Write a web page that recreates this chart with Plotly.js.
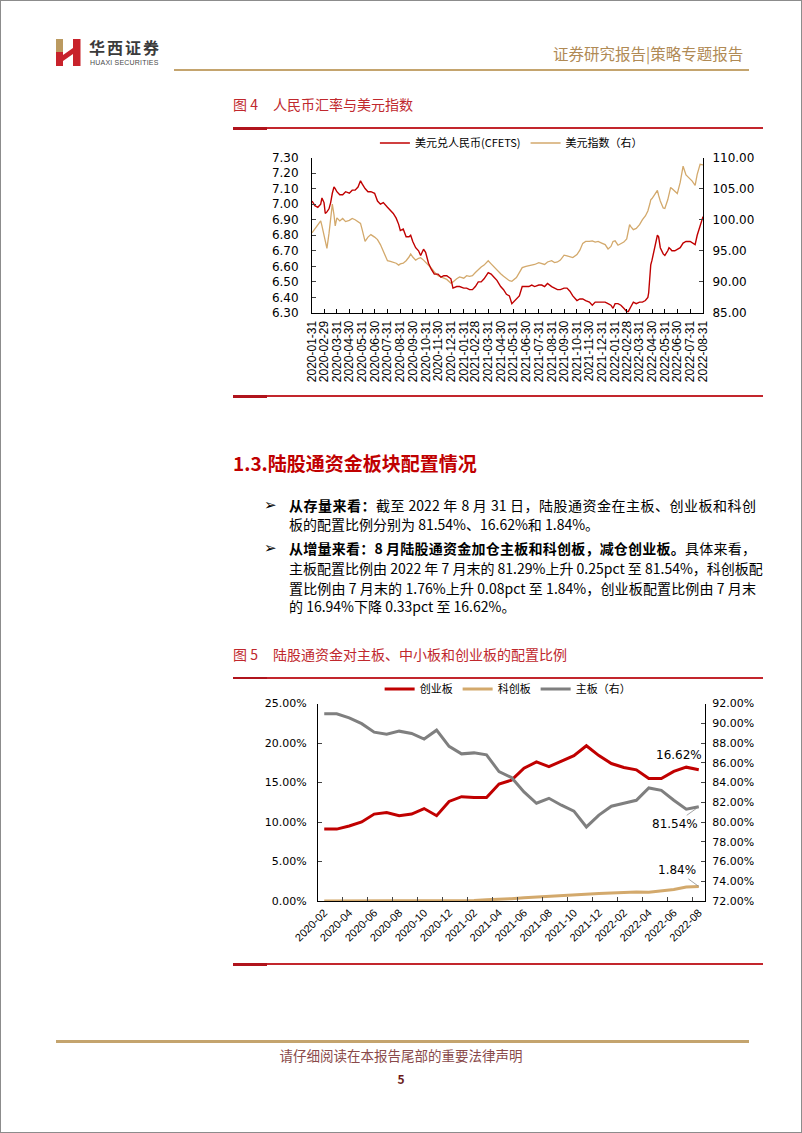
<!DOCTYPE html>
<html><head><meta charset="utf-8">
<script src="https://cdn.plot.ly/plotly-3.0.1.min.js"></script>
<style>
html,body{margin:0;padding:0;background:#fff;}
#page{position:relative;width:802px;height:1133px;box-sizing:border-box;border:1px solid #8c8c8c;overflow:hidden;font-family:"Noto Sans CJK SC","Noto Sans",sans-serif;color:#000;}
.abs{position:absolute;white-space:pre;}
.rule{position:absolute;left:232px;width:530px;height:2px;background:#c3262d;}
.rule:before{content:"";position:absolute;left:0;top:-0.5px;width:34px;height:3px;background:#b0141c;}
.ttl{position:absolute;left:232px;font-size:14px;line-height:20px;color:#c0282d;white-space:nowrap;}
.ttl span{margin-left:15px;}
.ln{position:absolute;left:288px;width:467px;font-size:14px;line-height:19px;white-space:nowrap;}
.j{text-align:justify;text-align-last:justify;}
.bul{position:absolute;left:263px;font-size:15px;line-height:19px;font-family:"DejaVu Sans",sans-serif;}
</style></head>
<body>
<div id="page">
  <svg class="abs" style="left:55px;top:38px" width="25" height="27" viewBox="0 0 25 27">
    <rect x="0" y="0" width="7" height="13" fill="#bb9a60"/>
    <rect x="0" y="13" width="7" height="14" fill="#c8222b"/>
    <rect x="17" y="0" width="7.5" height="27" fill="#c8222b"/>
    <polygon points="7,16 17,9 17,15 7,22" fill="#c8222b"/>
  </svg>
  <div class="abs" style="left:88px;top:37px;font-size:16px;line-height:19px;font-weight:700;color:#3b3b3b;letter-spacing:2px;">华西证券</div>
  <div class="abs" style="left:89px;top:58px;font-size:7px;line-height:7px;color:#4a4a4a;font-family:'Liberation Sans',sans-serif;letter-spacing:0.2px;">HUAXI SECURITIES</div>
  <div class="abs" style="left:173px;top:68px;width:575px;height:2px;background:#c4a46e;"></div>
  <div class="abs" style="left:552px;top:43px;font-size:15.5px;line-height:18px;color:#b08a55;">证券研究报告|策略专题报告</div>

  <div class="ttl" style="top:93px;">图 4<span>人民币汇率与美元指数</span></div>
  <div class="rule" style="top:126px;"></div>
  <div id="c1" class="abs" style="left:232px;top:130px;width:538px;height:262px;"></div>
  <div class="rule" style="top:394px;"></div>

  <div class="abs" style="left:232px;top:449px;font-size:19px;line-height:26px;font-weight:700;color:#c00000;">1.3.陆股通资金板块配置情况</div>

  <div class="bul" style="top:495px;">➢</div>
  <div class="ln j" style="top:495px;"><b>从存量来看：</b>截至 2022 年 8 月 31 日，陆股通资金在主板、创业板和科创</div>
  <div class="ln" style="top:514px;">板的配置比例分别为 81.54%、16.62%和 1.84%。</div>
  <div class="bul" style="top:538px;">➢</div>
  <div class="ln j" style="top:538px;"><b>从增量来看：8 月陆股通资金加仓主板和科创板，减仓创业板。</b>具体来看，</div>
  <div class="ln j" style="top:558px;">主板配置比例由 2022 年 7 月末的 81.29%上升 0.25pct 至 81.54%，科创板配</div>
  <div class="ln j" style="top:578px;">置比例由 7 月末的 1.76%上升 0.08pct 至 1.84%，创业板配置比例由 7 月末</div>
  <div class="ln" style="top:596px;">的 16.94%下降 0.33pct 至 16.62%。</div>

  <div class="ttl" style="top:643px;">图 5<span>陆股通资金对主板、中小板和创业板的配置比例</span></div>
  <div class="rule" style="top:676px;"></div>
  <div id="c2" class="abs" style="left:232px;top:678px;width:538px;height:282px;"></div>
  <div class="rule" style="top:962px;"></div>

  <div class="abs" style="left:55px;top:1039px;width:693px;height:3px;background:#c4a46e;"></div>
  <div class="abs" style="left:0;width:800px;text-align:center;top:1045px;font-size:13.5px;line-height:18px;color:#8a4a4a;">请仔细阅读在本报告尾部的重要法律声明</div>
  <div class="abs" style="left:0;width:800px;text-align:center;top:1070px;font-size:12px;line-height:16px;font-weight:700;color:#6b1a1a;">5</div>
</div>
<script>
// ---------- Figure 4 data ----------
const fxTickLabels = ['2020-01-31','2020-02-29','2020-03-31','2020-04-30','2020-05-31','2020-06-30','2020-07-31','2020-08-31','2020-09-30','2020-10-31','2020-11-30','2020-12-31','2021-01-31','2021-02-28','2021-03-31','2021-04-30','2021-05-31','2021-06-30','2021-07-31','2021-08-31','2021-09-30','2021-10-31','2021-11-30','2021-12-31','2022-01-31','2022-02-28','2022-03-31','2022-04-30','2022-05-31','2022-06-30','2022-07-31','2022-08-31'];
const fxDates = ['2020-01-31','2020-02-07','2020-02-14','2020-02-21','2020-02-24','2020-02-29','2020-03-03','2020-03-07','2020-03-12','2020-03-16','2020-03-20','2020-03-24','2020-03-27','2020-03-31','2020-04-07','2020-04-14','2020-04-21','2020-04-30','2020-05-07','2020-05-14','2020-05-21','2020-05-27','2020-05-31','2020-06-07','2020-06-14','2020-06-21','2020-06-30','2020-07-07','2020-07-14','2020-07-21','2020-07-31','2020-08-07','2020-08-14','2020-08-21','2020-08-27','2020-08-31','2020-09-07','2020-09-14','2020-09-21','2020-09-25','2020-09-30','2020-10-07','2020-10-14','2020-10-19','2020-10-26','2020-10-31','2020-11-07','2020-11-14','2020-11-21','2020-11-30','2020-12-07','2020-12-14','2020-12-21','2020-12-31','2021-01-05','2021-01-14','2021-01-21','2021-01-31','2021-02-07','2021-02-14','2021-02-21','2021-02-28','2021-03-07','2021-03-14','2021-03-21','2021-03-31','2021-04-07','2021-04-14','2021-04-21','2021-04-30','2021-05-07','2021-05-14','2021-05-21','2021-05-27','2021-05-31','2021-06-07','2021-06-14','2021-06-21','2021-06-30','2021-07-07','2021-07-14','2021-07-21','2021-07-31','2021-08-07','2021-08-14','2021-08-21','2021-08-31','2021-09-07','2021-09-14','2021-09-21','2021-09-30','2021-10-07','2021-10-14','2021-10-21','2021-10-31','2021-11-07','2021-11-14','2021-11-21','2021-11-30','2021-12-07','2021-12-14','2021-12-21','2021-12-31','2022-01-07','2022-01-14','2022-01-21','2022-01-26','2022-01-31','2022-02-07','2022-02-14','2022-02-21','2022-02-28','2022-03-04','2022-03-07','2022-03-10','2022-03-16','2022-03-23','2022-03-31','2022-04-07','2022-04-14','2022-04-20','2022-04-22','2022-04-25','2022-04-27','2022-04-30','2022-05-06','2022-05-10','2022-05-13','2022-05-16','2022-05-20','2022-05-27','2022-05-31','2022-06-07','2022-06-10','2022-06-14','2022-06-17','2022-06-24','2022-06-30','2022-07-07','2022-07-14','2022-07-21','2022-07-31','2022-08-05','2022-08-12','2022-08-17','2022-08-24','2022-08-31'];
const usdCny = [7.02,6.99,6.98,7.00,7.04,7.01,6.94,6.95,6.97,7.01,7.07,7.11,7.10,7.08,7.06,7.06,7.08,7.07,7.09,7.09,7.11,7.15,7.13,7.10,7.08,7.08,7.07,7.02,7.00,7.01,6.98,6.96,6.94,6.91,6.87,6.83,6.84,6.79,6.79,6.80,6.76,6.72,6.70,6.67,6.71,6.69,6.62,6.58,6.55,6.55,6.53,6.54,6.54,6.52,6.46,6.47,6.47,6.46,6.46,6.45,6.45,6.47,6.50,6.50,6.52,6.56,6.55,6.53,6.51,6.47,6.45,6.42,6.41,6.36,6.37,6.39,6.41,6.47,6.47,6.47,6.48,6.47,6.48,6.48,6.47,6.49,6.47,6.46,6.45,6.45,6.46,6.46,6.44,6.41,6.38,6.39,6.39,6.38,6.37,6.35,6.37,6.37,6.37,6.37,6.36,6.35,6.33,6.36,6.36,6.35,6.33,6.31,6.31,6.33,6.34,6.37,6.36,6.37,6.37,6.38,6.40,6.43,6.55,6.61,6.64,6.71,6.77,6.80,6.79,6.72,6.68,6.67,6.70,6.72,6.71,6.70,6.70,6.71,6.72,6.75,6.76,6.76,6.75,6.74,6.80,6.86,6.92];
const dollarIndex = [97.9,98.6,99.3,99.8,99.0,97.6,96.5,95.4,97.8,100.5,102.5,100.8,99.0,100.3,99.8,100.2,99.7,99.9,100.2,100.0,99.6,99.4,98.4,96.5,97.2,97.6,97.2,96.8,96.0,94.8,93.4,93.3,93.2,93.0,92.7,92.9,93.0,93.4,94.0,94.5,94.0,93.5,93.8,93.9,93.5,93.2,92.7,92.2,91.6,91.0,90.8,90.6,90.4,89.8,90.0,90.5,90.8,90.6,91.0,90.9,91.0,91.5,92.0,92.4,92.7,93.4,92.9,92.4,91.8,91.3,90.9,90.5,90.2,90.1,90.3,90.7,91.5,92.3,92.5,92.6,92.8,92.8,93.1,93.0,92.8,93.2,93.4,93.1,93.2,93.5,94.3,94.2,94.0,93.9,94.4,95.1,96.2,96.5,96.5,96.6,96.4,96.5,96.2,96.0,95.3,95.7,96.5,96.6,95.9,96.1,96.4,96.9,98.0,99.2,98.9,98.4,98.6,99.2,100.0,100.6,101.4,101.8,102.6,103.2,103.4,104.0,104.3,104.7,103.9,103.0,101.9,101.8,103.2,104.2,105.2,105.0,104.6,104.2,106.0,108.6,107.2,106.6,106.2,105.5,107.3,108.9,108.8];
const fxNames = ['美元兑人民币(CFETS)','美元指数（右）'];

// ---------- Figure 5 data ----------
const months = ['2020-02','2020-03','2020-04','2020-05','2020-06','2020-07','2020-08','2020-09','2020-10','2020-11','2020-12','2021-01','2021-02','2021-03','2021-04','2021-05','2021-06','2021-07','2021-08','2021-09','2021-10','2021-11','2021-12','2022-01','2022-02','2022-03','2022-04','2022-05','2022-06','2022-07','2022-08'];
const chinext = [9.1,9.1,9.5,10.0,11.0,11.2,10.8,11.0,11.7,10.8,12.6,13.2,13.1,13.1,14.8,15.3,16.8,17.6,17.0,17.7,18.4,19.65,18.4,17.4,16.9,16.6,15.5,15.5,16.4,16.94,16.62];
const star = [0,0,0,0,0,0,0,0,0,0,0,0,0.05,0.15,0.2,0.3,0.4,0.5,0.6,0.7,0.75,0.85,0.95,1.0,1.05,1.15,1.1,1.3,1.45,1.76,1.84];
const mainBoard = [90.95,90.95,90.55,89.96,89.1,88.9,89.2,88.97,88.4,89.3,87.66,86.9,87.0,86.8,85.1,84.5,83.05,81.9,82.4,81.7,81.1,79.5,80.7,81.6,81.9,82.2,83.45,83.2,82.2,81.29,81.54];
const boardNames = ['创业板','科创板','主板（右）'];

const FONT = '"Noto Sans CJK SC","Noto Sans",sans-serif';
const RED = '#c00000', TAN = '#d3a96c', GREY = '#7f7f7f';

// ---------- Chart 1 ----------
Plotly.newPlot('c1', [
  {x: fxDates, y: dollarIndex, name: fxNames[1], type: 'scatter', mode: 'lines', yaxis: 'y', line: {color: TAN, width: 1.3}, legendrank: 2},
  {x: fxDates, y: usdCny, name: fxNames[0], type: 'scatter', mode: 'lines', yaxis: 'y2', line: {color: RED, width: 1.4}, legendrank: 1}
], {
  width: 538, height: 262,
  margin: {l: 79, r: 68, t: 22, b: 80},
  paper_bgcolor: '#fff', plot_bgcolor: '#fff',
  font: {family: FONT, size: 11, color: '#000'},
  showlegend: true,
  legend: {orientation: 'h', x: 0.51, xanchor: 'center', yref: 'container', y: 1 - 12 / 262, yanchor: 'middle', font: {size: 11}, itemwidth: 30, bgcolor: 'rgba(0,0,0,0)'},
  xaxis: {type: 'date', range: [fxTickLabels[0], fxTickLabels[fxTickLabels.length - 1]], tickmode: 'array', tickvals: fxTickLabels, ticktext: fxTickLabels, tickangle: -90, ticks: 'inside', ticklen: 4, tickcolor: '#000', showline: true, linecolor: '#000', linewidth: 1, showgrid: false, zeroline: false, tickfont: {size: 12, family: '"Liberation Sans",sans-serif'}, ticklabelstandoff: 2},
  yaxis: {side: 'right', range: [85, 110], dtick: 5, tick0: 85, tickformat: '.2f', ticks: 'inside', ticklen: 4, showline: true, linecolor: '#000', showgrid: false, zeroline: false, tickfont: {size: 12, family: '"DejaVu Sans",sans-serif'}, ticklabelstandoff: 6},
  yaxis2: {side: 'left', overlaying: 'y', range: [6.3, 7.3], dtick: 0.1, tick0: 6.3, tickformat: '.2f', ticks: 'inside', ticklen: 4, showline: true, linecolor: '#000', showgrid: false, zeroline: false, tickfont: {size: 12, family: '"DejaVu Sans",sans-serif'}, ticklabelstandoff: 10}
}, {staticPlot: true});

// ---------- Chart 2 ----------
const n = months.length - 1;
Plotly.newPlot('c2', [
  {x: months, y: chinext, name: boardNames[0], type: 'scatter', mode: 'lines', line: {color: RED, width: 3}},
  {x: months, y: star, name: boardNames[1], type: 'scatter', mode: 'lines', line: {color: TAN, width: 3}},
  {x: months, y: mainBoard, name: boardNames[2], type: 'scatter', mode: 'lines', yaxis: 'y2', line: {color: GREY, width: 3}}
], {
  width: 538, height: 282,
  margin: {l: 85, r: 66, t: 22, b: 60},
  paper_bgcolor: '#fff', plot_bgcolor: '#fff',
  font: {family: FONT, size: 11, color: '#000'},
  showlegend: true,
  legend: {orientation: 'h', x: 0.49, xanchor: 'center', yref: 'container', y: 1 - 10 / 282, yanchor: 'middle', font: {size: 11}, itemwidth: 30, bgcolor: 'rgba(0,0,0,0)'},
  xaxis: {type: 'category', categoryarray: months, range: [-0.5, n + 0.5], tickmode: 'linear', tick0: 0, dtick: 2, tickson: 'boundaries', tickangle: -45, ticks: 'inside', ticklen: 4, showline: true, linecolor: '#000', showgrid: false, zeroline: false, tickfont: {size: 11, family: '"Liberation Sans",sans-serif'}},
  yaxis: {range: [0, 25], dtick: 5, tickformat: '.2f', ticksuffix: '%', ticks: 'inside', ticklen: 4, showline: true, linecolor: '#000', showgrid: false, zeroline: false, tickfont: {size: 11, family: '"DejaVu Sans",sans-serif'}, ticklabelstandoff: 8},
  yaxis2: {side: 'right', overlaying: 'y', range: [72, 92], dtick: 2, tick0: 72, tickformat: '.2f', ticksuffix: '%', ticks: 'inside', ticklen: 4, showline: true, linecolor: '#000', showgrid: false, zeroline: false, tickfont: {size: 11, family: '"DejaVu Sans",sans-serif'}, ticklabelstandoff: 4},
  annotations: [
    {x: months[n], y: chinext[n], xref: 'x', yref: 'y', text: chinext[n].toFixed(2) + '%', showarrow: false, xshift: -20, yshift: 15, font: {size: 12, family: '"DejaVu Sans",sans-serif'}},
    {x: months[n], y: mainBoard[n], xref: 'x', yref: 'y2', text: mainBoard[n].toFixed(2) + '%', showarrow: true, arrowhead: 0, arrowwidth: 0.8, arrowcolor: '#8c8c8c', ax: -24, ay: 17, standoff: 0, font: {size: 12, family: '"DejaVu Sans",sans-serif'}},
    {x: months[n], y: star[n], xref: 'x', yref: 'y', text: star[n].toFixed(2) + '%', showarrow: true, arrowhead: 0, arrowwidth: 0.8, arrowcolor: '#8c8c8c', ax: -22, ay: -16, standoff: 0, font: {size: 12, family: '"DejaVu Sans",sans-serif'}}
  ]
}, {staticPlot: true});
</script>
</body></html>
